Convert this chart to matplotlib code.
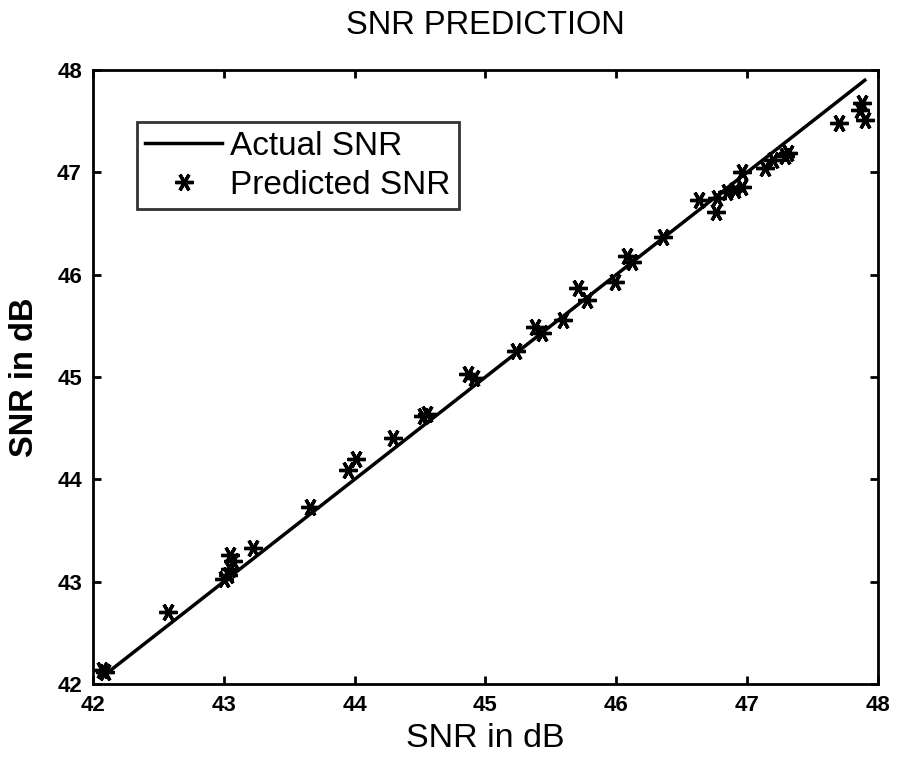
import matplotlib.pyplot as plt

# actual vs predicted SNR (dB)
actual = [42.07, 42.09, 42.57, 43.00, 43.03, 43.05, 43.07, 43.05, 43.22, 43.66,
          43.95, 44.01, 44.29, 44.52, 44.55, 44.87, 44.91, 45.23, 45.38, 45.43,
          45.59, 45.71, 45.78, 45.99, 46.08, 46.12, 46.36, 46.63, 46.76, 46.77,
          46.85, 46.91, 46.96, 46.96, 47.14, 47.20, 47.29, 47.31, 47.70, 47.86,
          47.88, 47.90]
predicted = [42.14, 42.12, 42.70, 43.03, 43.07, 43.12, 43.20, 43.26, 43.33, 43.73,
             44.09, 44.20, 44.40, 44.62, 44.64, 45.03, 44.99, 45.25, 45.49, 45.43,
             45.56, 45.87, 45.75, 45.93, 46.18, 46.12, 46.37, 46.73, 46.61, 46.75,
             46.81, 46.83, 47.00, 46.86, 47.04, 47.12, 47.16, 47.19, 47.48, 47.61,
             47.68, 47.51]
ticks = [42, 43, 44, 45, 46, 47, 48]

plt.rcParams['font.family'] = ['Liberation Sans', 'DejaVu Sans']

fig = plt.figure(figsize=(8.97, 7.6), dpi=100)
ax = fig.add_axes([0.1037, 0.1, 0.875, 0.8079])

line_x = sorted(actual)
ax.plot(line_x, line_x, color='black', lw=2.5, label='Actual SNR')
# asterisk marker, drawn thick like the scanned original
ax.plot(actual, predicted, ls='none', marker=(6, 2, 90), ms=13, mew=2.4,
        color='black', label='Predicted SNR')

ax.set_xlim(42, 48)
ax.set_ylim(42, 48)
ax.set_xticks(ticks)
ax.set_yticks(ticks)
ax.tick_params(direction='in', top=True, right=True, length=6, width=2,
               labelsize=16, pad=8)
for lab in ax.get_xticklabels() + ax.get_yticklabels():
    lab.set_fontweight('bold')
for sp in ax.spines.values():
    sp.set_linewidth(2)

ax.set_title('SNR PREDICTION', fontsize=23.5, pad=26)
ax.set_xlabel('SNR in dB', fontsize=24.5, labelpad=5)
ax.set_ylabel('SNR in dB', fontsize=23.5, fontweight='bold', labelpad=12)

leg = ax.legend(loc='upper left', bbox_to_anchor=(0.056, 0.915), fontsize=24,
                frameon=True, fancybox=False, edgecolor='black',
                handlelength=2.3, handletextpad=0.25, borderpad=0.25,
                labelspacing=0.25, borderaxespad=0)
leg.get_frame().set_linewidth(2)

fig.savefig('out.png', dpi=100)
